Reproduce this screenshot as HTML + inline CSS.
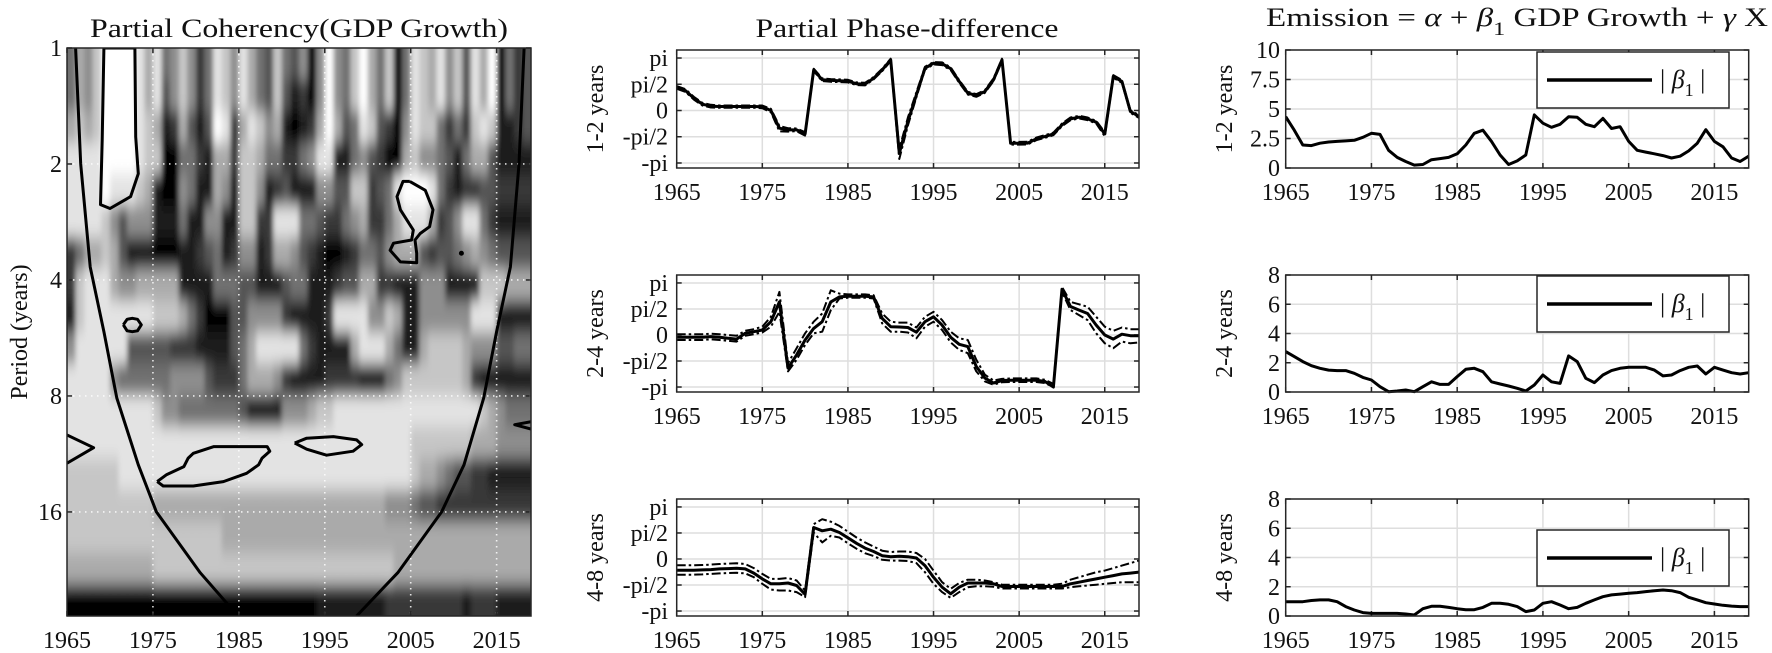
<!DOCTYPE html>
<html><head><meta charset="utf-8"><title>Partial coherency and phase-difference</title>
<style>
html,body{margin:0;padding:0;background:#fff;}
svg{display:block;font-family:"Liberation Serif","DejaVu Serif",serif;}
</style></head>
<body>
<svg id="chart" width="1772" height="653" viewBox="0 0 1772 653" xmlns="http://www.w3.org/2000/svg">
<defs>
<filter id="soft" filterUnits="userSpaceOnUse" x="20" y="0" width="560" height="653"><feGaussianBlur stdDeviation="2.5 8"/></filter>
<clipPath id="clipHeat"><rect x="67" y="48" width="464" height="568"/></clipPath>
</defs>
<rect x="0" y="0" width="1772" height="653" fill="#fff"/>
</svg>
<script>
// ---------- DATA ----------
const yearStart = 1965, yearEnd = 2019;
const years = [];
for (let y = yearStart; y <= yearEnd; y++) years.push(y);
const xTickYears = [1965, 1975, 1985, 1995, 2005, 2015];
const periodTicks = [1, 2, 4, 8, 16];
const periodMax = 29.8;
const phaseTickVals = [Math.PI, Math.PI/2, 0, -Math.PI/2, -Math.PI];
const phaseTickLabels = ["pi", "pi/2", "0", "-pi/2", "-pi"];
const betaTicksRow1 = [0, 2.5, 5, 7.5, 10];
const betaTickLabelsRow1 = ["0", "2.5", "5", "7.5", "10"];
const betaTicksRow23 = [0, 2, 4, 6, 8];
const betaTickLabelsRow23 = ["0", "2", "4", "6", "8"];
const bandLabels = ["1-2 years", "2-4 years", "4-8 years"];

// coherency heatmap: 18 period bands (top=short period) x 54 yearly columns, digit 0..9 = coherency 0..1
const cohRows = [
"534200001315424751241356256494045203529512314261309576",
"534200001316424751241356268794045203529512314261309576",
"323200001238736860173124389873036512679412257572128876",
"111100001229955783372235577541188546799324456853368888",
"111101112389945883482248768884466227651000157877667777",
"111124644488858844882277111556775437753111376411578888",
"753323688899988765874487334678998755643336766543456666",
"721113443333388885556688865588876633778884448888222333",
"821111111122235799966444478888711114423884444441118888",
"411111166666777888865311111578888311135883222234446655",
"111114555555444467775333478888777788854222222237888888",
"111111111124455555556888844432211111111111111111234555",
"111111111111111111111111111111111111111122222223334444",
"222222111111111111111111111111111111111123345667788888",
"222222222233333333333333333333333333344456677777777777",
"222222222222222222333333333333333333333333333333333333",
"333333333322222222222222222222222222223333333333333333",
"999999999999999999999999999998888888877777777787778888"
];
const coh = cohRows.map(s => s.split('').map(d => Number(d) / 9));

// significance contours [year, period]
const contourA = [[1969.3,1],[1972.9,1],[1973.0,1.7],[1973.3,2.12],[1972.4,2.43],[1970.0,2.61],[1968.9,2.55],[1969.1,1.73],[1969.3,1]];
const contourB = [[2004.9,2.22],[2006.7,2.34],[2007.6,2.63],[2007.2,2.91],[2006.1,3.03],[2005.5,3.15],[2005.7,3.41],[2005.7,3.61],[2003.8,3.59],[2002.6,3.35],[2003.0,3.21],[2005.1,3.15],[2005.3,2.97],[2003.8,2.63],[2003.4,2.43],[2004.1,2.22],[2004.9,2.22]];
const contourC = [[1971.55,5.23],[1972.0,5.06],[1972.6,5.03],[1973.2,5.06],[1973.65,5.23],[1973.2,5.42],[1972.6,5.45],[1972.0,5.42],[1971.55,5.23]];
const contourD = [[1965,10.1],[1968.1,10.9],[1965,11.96]];
const contourE = [[1975.5,13.35],[1976.6,12.8],[1978.6,12.2],[1979.1,11.6],[1979.7,11.27],[1982.1,10.83],[1988.3,10.83],[1988.6,11.13],[1987.7,11.6],[1987.3,12.07],[1985.9,12.7],[1983.2,13.35],[1979.7,13.7],[1976.2,13.7],[1975.5,13.35]];
const contourF = [[1991.5,10.6],[1992.9,10.3],[1996.0,10.2],[1998.7,10.4],[1999.3,10.7],[1998.3,11.13],[1995.2,11.4],[1992.9,11.0],[1991.5,10.6]];
const contourG = [[2019,9.33],[2017.1,9.5],[2019,9.75]];
const sigDot = [2010.9, 3.41];
const coiLeft = [[1966.0,1],[1966.6,2],[1967.7,3.7],[1969.3,5.45],[1970.8,8.1],[1973.3,12.07],[1975.4,16],[1980.5,23],[1984.9,29.8]];
const coiRight = [[2018.2,1],[2017.6,2],[2016.6,3.7],[2015.0,5.45],[2013.5,8.1],[2011.2,12.07],[2008.6,16],[2003.5,23],[1998.7,29.8]];

// phase-difference (radians), 1965..2019
const phase12 = [1.38,1.2,0.74,0.38,0.26,0.24,0.24,0.24,0.24,0.24,0.22,0.0,-1.06,-1.16,-1.16,-1.4,2.43,1.84,1.8,1.78,1.76,1.6,1.58,1.93,2.43,3.03,-2.56,-0.66,0.94,2.53,2.83,2.8,2.5,1.74,1.04,0.9,1.14,1.84,3.03,-1.96,-1.96,-1.95,-1.7,-1.56,-1.4,-0.86,-0.5,-0.4,-0.5,-0.7,-1.4,2.04,1.74,-0.06,-0.36];
const phase12Up = [1.46,1.28,0.82,0.46,0.34,0.3,0.3,0.3,0.3,0.3,0.3,0.1,-0.92,-1.06,-1.08,-1.3,2.5,1.92,1.88,1.86,1.84,1.68,1.66,2.0,2.5,3.1,-2.3,-0.42,1.1,2.62,2.9,2.88,2.58,1.82,1.12,0.98,1.22,1.92,3.1,-1.88,-1.88,-1.87,-1.62,-1.48,-1.32,-0.78,-0.42,-0.32,-0.42,-0.62,-1.3,2.12,1.82,0.02,-0.28];
const phase12Lo = [1.3,1.12,0.66,0.3,0.18,0.16,0.16,0.16,0.16,0.16,0.14,-0.1,-1.25,-1.26,-1.24,-1.5,2.36,1.76,1.72,1.7,1.68,1.52,1.5,1.86,2.36,2.96,-2.9,-0.9,0.8,2.45,2.76,2.72,2.42,1.66,0.96,0.82,1.06,1.76,2.96,-2.04,-2.04,-2.03,-1.78,-1.64,-1.48,-0.94,-0.58,-0.48,-0.58,-0.78,-1.55,1.96,1.66,-0.14,-0.44];
const phase24 = [-0.14,-0.14,-0.14,-0.14,-0.1,-0.14,-0.2,-0.25,0.1,0.2,0.3,0.8,2.0,-2.0,-1.2,-0.3,0.4,0.8,2.0,2.3,2.34,2.34,2.34,2.3,1.0,0.5,0.48,0.45,0.17,0.8,1.1,0.6,-0.14,-0.56,-0.7,-1.9,-2.6,-2.9,-2.75,-2.73,-2.73,-2.73,-2.73,-2.8,-3.14,2.76,1.72,1.5,1.3,0.6,0.0,-0.25,0.05,-0.04,-0.04];
const phase24Up = [0.05,0.05,0.05,0.05,0.08,0.05,0.0,-0.05,0.25,0.35,0.5,1.1,2.6,-1.7,-0.8,0.1,0.8,1.3,2.7,2.5,2.45,2.45,2.45,2.4,1.3,0.8,0.75,0.75,0.45,1.1,1.4,0.9,0.2,-0.2,-0.3,-1.5,-2.4,-2.75,-2.65,-2.62,-2.62,-2.62,-2.62,-2.7,-2.95,2.9,2.0,1.85,1.7,1.1,0.5,0.25,0.45,0.35,0.35];
const phase24Lo = [-0.3,-0.3,-0.3,-0.3,-0.26,-0.3,-0.35,-0.4,-0.05,0.05,0.15,0.5,1.4,-2.2,-1.5,-0.6,0.1,0.2,1.5,2.2,2.25,2.25,2.25,2.2,0.7,0.2,0.2,0.15,-0.2,0.5,0.8,0.3,-0.45,-0.9,-1.1,-2.2,-2.8,-3.0,-2.85,-2.84,-2.84,-2.84,-2.84,-2.9,-3.14,2.6,1.5,1.2,0.9,0.1,-0.5,-0.8,-0.4,-0.5,-0.45];
const phase48 = [-0.68,-0.68,-0.68,-0.66,-0.64,-0.6,-0.58,-0.56,-0.6,-0.85,-1.2,-1.5,-1.5,-1.45,-1.6,-2.13,1.9,1.7,1.8,1.6,1.28,0.95,0.66,0.45,0.2,0.14,0.16,0.14,0.06,-0.4,-1.1,-1.7,-2.1,-1.7,-1.45,-1.45,-1.45,-1.5,-1.66,-1.66,-1.66,-1.66,-1.66,-1.66,-1.66,-1.66,-1.5,-1.4,-1.3,-1.2,-1.1,-1.0,-0.9,-0.85,-0.79];
const phase48Up = [-0.38,-0.38,-0.38,-0.36,-0.34,-0.3,-0.28,-0.26,-0.3,-0.55,-0.9,-1.2,-1.2,-1.15,-1.3,-1.9,2.1,2.4,2.25,2.0,1.65,1.3,1.0,0.75,0.5,0.42,0.45,0.45,0.36,0.0,-0.7,-1.4,-1.8,-1.45,-1.25,-1.25,-1.3,-1.4,-1.55,-1.55,-1.55,-1.55,-1.55,-1.55,-1.55,-1.5,-1.25,-1.1,-0.95,-0.8,-0.7,-0.55,-0.4,-0.25,-0.1];
const phase48Lo = [-0.95,-0.95,-0.95,-0.93,-0.9,-0.87,-0.85,-0.83,-0.87,-1.1,-1.5,-1.85,-1.9,-1.9,-2.0,-2.3,1.6,1.0,1.4,1.3,0.95,0.62,0.35,0.18,-0.05,-0.1,-0.1,-0.12,-0.25,-0.8,-1.5,-2.0,-2.35,-2.0,-1.7,-1.65,-1.65,-1.68,-1.78,-1.78,-1.78,-1.78,-1.78,-1.78,-1.78,-1.78,-1.7,-1.65,-1.6,-1.55,-1.5,-1.45,-1.4,-1.4,-1.4];

// |beta1| estimates, 1965..2019
const beta12 = [4.35,3.2,1.95,1.9,2.1,2.2,2.25,2.3,2.35,2.6,2.94,2.85,1.5,0.9,0.55,0.25,0.3,0.7,0.8,0.9,1.2,1.95,2.94,3.2,2.25,1.1,0.3,0.6,1.1,4.5,3.8,3.45,3.7,4.35,4.3,3.7,3.5,4.2,3.35,3.5,2.25,1.5,1.35,1.2,1.05,0.85,1.0,1.45,2.1,3.25,2.25,1.8,0.85,0.55,1.0];
const beta24 = [2.76,2.42,2.08,1.8,1.62,1.5,1.46,1.46,1.28,1.0,0.82,0.36,0.02,0.07,0.14,0.02,0.36,0.7,0.52,0.52,1.05,1.55,1.62,1.39,0.7,0.55,0.41,0.25,0.07,0.48,1.16,0.7,0.59,2.47,2.08,0.94,0.64,1.16,1.46,1.62,1.69,1.69,1.69,1.5,1.1,1.16,1.46,1.69,1.78,1.23,1.69,1.5,1.32,1.23,1.32];
const beta48 = [0.98,0.98,0.98,1.06,1.1,1.1,0.98,0.64,0.41,0.23,0.18,0.18,0.18,0.18,0.14,0.07,0.5,0.66,0.66,0.59,0.5,0.43,0.43,0.59,0.87,0.87,0.8,0.64,0.3,0.41,0.87,0.98,0.75,0.5,0.59,0.87,1.1,1.32,1.44,1.5,1.55,1.6,1.67,1.73,1.78,1.73,1.6,1.28,1.1,0.91,0.82,0.73,0.68,0.64,0.64];

// ---------- LAYOUT ----------
const NS = 'http://www.w3.org/2000/svg';
const svg = document.getElementById('chart');
const FRAME = '#262626', GRID = '#dedede';
const P1 = {x0:67, x1:531, y0:48, y1:616};
const MID = [{x0:676.7,x1:1139,y0:50,y1:168},{x0:676.7,x1:1139,y0:275,y1:392},{x0:676.7,x1:1139,y0:499,y1:616}];
const RGT = [{x0:1285.7,x1:1748.7,y0:50,y1:168},{x0:1285.7,x1:1748.7,y0:275,y1:392},{x0:1285.7,x1:1748.7,y0:499,y1:616}];
const PH_MIN = -Math.PI - 0.3, PH_MAX = Math.PI + 0.48;

function mk(tag, attrs, parent) {
  const e = document.createElementNS(NS, tag);
  for (const k in attrs) e.setAttribute(k, attrs[k]);
  (parent || svg).appendChild(e);
  return e;
}
function xYear(p, yr) { return p.x0 + (yr - yearStart) / (yearEnd - yearStart) * (p.x1 - p.x0); }
function yPeriod(per) { return P1.y0 + Math.log2(per) / Math.log2(periodMax) * (P1.y1 - P1.y0); }
function yLin(p, v, lo, hi) { return p.y1 - (v - lo) / (hi - lo) * (p.y1 - p.y0); }
function label(txt, x, y, anchor, parent) {
  const t = mk('text', {x:x, y:y, 'font-size':24, 'text-anchor':anchor, fill:'#111'}, parent);
  t.textContent = txt;
  return t;
}

// ---------- PANEL 1: coherency heatmap ----------
const g1 = mk('g', {});


const clipG = mk('g', {'clip-path':'url(#clipHeat)'}, g1);
const heat = mk('g', {filter:'url(#soft)'}, clipG);


const nBands = coh.length, L2 = Math.log2(periodMax);
for (let k = 0; k < nBands; k++) {
  const pTop = Math.pow(2, k * L2 / nBands), pBot = Math.pow(2, (k + 1) * L2 / nBands);
  let ya = yPeriod(pTop), yb = yPeriod(pBot);
  if (k === 0) ya -= 30;
  if (k === nBands - 1) yb += 30;
  for (let i = 0; i < coh[k].length; i++) {
    let xa = xYear(P1, yearStart + i), xb = xYear(P1, yearStart + i + 1);
    if (i === 0) xa -= 30;
    if (i === coh[k].length - 1) xb += 30;
    const gv = Math.round(255 * (1 - coh[k][i]));
    const r = mk('rect', {x:xa, y:ya, width:xb - xa + 0.6, height:yb - ya + 0.6, fill:`rgb(${gv},${gv},${gv})`}, heat);
    
    
  }
}
for (const yr of xTickYears.slice(1)) {
  const l = mk('line', {x1:xYear(P1, yr), x2:xYear(P1, yr), y1:P1.y0, y2:P1.y1, stroke:'#fff', 'stroke-width':1.6, 'stroke-dasharray':'1.5 4.5', opacity:0.85}, clipG);
  
  
}
for (const pr of periodTicks.slice(1)) {
  const l = mk('line', {x1:P1.x0, x2:P1.x1, y1:yPeriod(pr), y2:yPeriod(pr), stroke:'#fff', 'stroke-width':1.6, 'stroke-dasharray':'1.5 4.5', opacity:0.85}, clipG);
  
  
}
function contourPath(pts) { return pts.map((q, j) => (j ? 'L' : 'M') + xYear(P1, q[0]).toFixed(1) + ' ' + yPeriod(q[1]).toFixed(1)).join(' '); }
const contours = [contourA, contourB, contourC, contourD, contourE, contourF, contourG];
for (const c of contours) {
  const p = mk('path', {d:contourPath(c), fill:'none', stroke:'#000', 'stroke-width':3, 'stroke-linejoin':'round'}, clipG);
  
  
}
const dot = mk('circle', {cx:xYear(P1, sigDot[0]), cy:yPeriod(sigDot[1]), r:2.5, fill:'#000'}, clipG);


for (const c of [coiLeft, coiRight]) {
  const p = mk('path', {d:contourPath(c), fill:'none', stroke:'#000', 'stroke-width':3, 'stroke-linejoin':'round'}, clipG);
  
  
}
const f1 = mk('rect', {x:P1.x0, y:P1.y0, width:P1.x1 - P1.x0, height:P1.y1 - P1.y0, fill:'none', stroke:FRAME, 'stroke-width':1.5}, g1);


for (const yr of xTickYears) {
  const x = xYear(P1, yr);
  mk('line', {x1:x, x2:x, y1:P1.y1, y2:P1.y1 - 5, stroke:FRAME, 'stroke-width':1.5}, g1);
  mk('line', {x1:x, x2:x, y1:P1.y0, y2:P1.y0 + 5, stroke:FRAME, 'stroke-width':1.5}, g1);
  const t = label(String(yr), x, P1.y1 + 32, 'middle', g1);
  
  
}
for (const pr of periodTicks) {
  const y = yPeriod(pr);
  mk('line', {x1:P1.x0, x2:P1.x0 + 5, y1:y, y2:y, stroke:FRAME, 'stroke-width':1.5}, g1);
  mk('line', {x1:P1.x1, x2:P1.x1 - 5, y1:y, y2:y, stroke:FRAME, 'stroke-width':1.5}, g1);
  const t = label(String(pr), 62, y + 8, 'end', g1);
  
  
}
const yl1 = mk('text', {x:0, y:0, 'font-size':24, 'text-anchor':'middle', fill:'#111', transform:'translate(27,332) rotate(-90)'}, g1);
yl1.textContent = 'Period (years)';


const t1 = mk('text', {x:90, y:37, 'font-size':26, fill:'#111', textLength:418, lengthAdjust:'spacingAndGlyphs'}, g1);
t1.textContent = 'Partial Coherency(GDP Growth)';



// ---------- generic line panel ----------
function linePanel(p, name, yTicks, yLabels, lo, hi, series, ylabel, labelX, tickLabelX) {
  const g = mk('g', {});
  
  
  for (const yr of xTickYears.slice(1)) {
    const l = mk('line', {x1:xYear(p, yr), x2:xYear(p, yr), y1:p.y0, y2:p.y1, stroke:GRID, 'stroke-width':1.5}, g);
    
    
  }
  yTicks.forEach((v, j) => {
    const y = yLin(p, v, lo, hi);
    const l = mk('line', {x1:p.x0, x2:p.x1, y1:y, y2:y, stroke:GRID, 'stroke-width':1.5}, g);
    
    
    mk('line', {x1:p.x0, x2:p.x0 + 5, y1:y, y2:y, stroke:FRAME, 'stroke-width':1.5}, g);
    mk('line', {x1:p.x1, x2:p.x1 - 5, y1:y, y2:y, stroke:FRAME, 'stroke-width':1.5}, g);
    const t = label(yLabels[j], tickLabelX, y + 8, 'end', g);
    
    
  });
  for (const yr of xTickYears) {
    const x = xYear(p, yr);
    mk('line', {x1:x, x2:x, y1:p.y1, y2:p.y1 - 5, stroke:FRAME, 'stroke-width':1.5}, g);
    mk('line', {x1:x, x2:x, y1:p.y0, y2:p.y0 + 5, stroke:FRAME, 'stroke-width':1.5}, g);
    const t = label(String(yr), x, p.y1 + 32, 'middle', g);
    
    
  }
  const cid = 'clip-' + name;
  const cp = mk('clipPath', {id:cid}, g);
  mk('rect', {x:p.x0, y:p.y0 - 4, width:p.x1 - p.x0, height:p.y1 - p.y0 + 8}, cp);
  const sg = mk('g', {'clip-path':`url(#${cid})`}, g);
  for (const s of series) {
    const d = s.vals.map((v, i) => (i ? 'L' : 'M') + xYear(p, years[i]).toFixed(1) + ' ' + yLin(p, v, lo, hi).toFixed(1)).join(' ');
    const path = mk('path', {d:d, fill:'none', stroke:'#000', 'stroke-width':s.w, 'stroke-linejoin':'round', 'stroke-dasharray':s.dash || 'none'}, sg);
    
    
  }
  const fr = mk('rect', {x:p.x0, y:p.y0, width:p.x1 - p.x0, height:p.y1 - p.y0, fill:'none', stroke:FRAME, 'stroke-width':1.5}, g);
  
  
  const cy = (p.y0 + p.y1) / 2;
  const yl = mk('text', {x:0, y:0, 'font-size':24, 'text-anchor':'middle', fill:'#111', transform:`translate(${labelX},${cy}) rotate(-90)`}, g);
  yl.textContent = ylabel;
  
  
  return g;
}

const phaseSets = [[phase12, phase12Up, phase12Lo], [phase24, phase24Up, phase24Lo], [phase48, phase48Up, phase48Lo]];
const DD = '9 3 2.5 3';
for (let r = 0; r < 3; r++) {
  linePanel(MID[r], 'phase-panel-' + (r + 1), phaseTickVals, phaseTickLabels, PH_MIN, PH_MAX, [
    {vals:phaseSets[r][1], w:2, dash:DD, name:'phase-upper-band'},
    {vals:phaseSets[r][2], w:2, dash:DD, name:'phase-lower-band'},
    {vals:phaseSets[r][0], w:3, name:'phase-difference-line'}
  ], bandLabels[r], 603, 668);
}
const betaSets = [beta12, beta24, beta48];
for (let r = 0; r < 3; r++) {
  const tk = r === 0 ? betaTicksRow1 : betaTicksRow23;
  const tl = r === 0 ? betaTickLabelsRow1 : betaTickLabelsRow23;
  linePanel(RGT[r], 'beta-panel-' + (r + 1), tk, tl, 0, tk[tk.length - 1], [
    {vals:betaSets[r], w:3, name:'beta-line'}
  ], bandLabels[r], 1232, 1280);
}

// legends
const legendTops = [52, 276, 530];
for (let r = 0; r < 3; r++) {
  const top = legendTops[r];
  const lg = mk('g', {});
  
  
  mk('rect', {x:1537, y:top, width:192, height:56, fill:'#fff', stroke:FRAME, 'stroke-width':1.5}, lg);
  const ln = mk('line', {x1:1547, x2:1652, y1:top + 28, y2:top + 28, stroke:'#000', 'stroke-width':3.5}, lg);
  
  
  const lt = mk('text', {x:1660, y:top + 36, 'font-size':26, fill:'#111'}, lg);
  
  
  lt.innerHTML = '| <tspan font-style="italic">β</tspan><tspan dy="8" font-size="18">1</tspan><tspan dy="-8"> |</tspan>';
}

// titles
const t2 = mk('text', {x:907, y:37, 'font-size':26, 'text-anchor':'middle', fill:'#111', textLength:303, lengthAdjust:'spacingAndGlyphs'});
t2.textContent = 'Partial Phase-difference';


const t3 = mk('text', {x:1266, y:26, 'font-size':26, fill:'#111', textLength:502, lengthAdjust:'spacingAndGlyphs'});
t3.innerHTML = 'Emission = <tspan font-style="italic">α</tspan> + <tspan font-style="italic">β</tspan><tspan dy="9" font-size="19">1</tspan><tspan dy="-9"> GDP Growth + </tspan><tspan font-style="italic">γ</tspan> X';


</script>
</body></html>
